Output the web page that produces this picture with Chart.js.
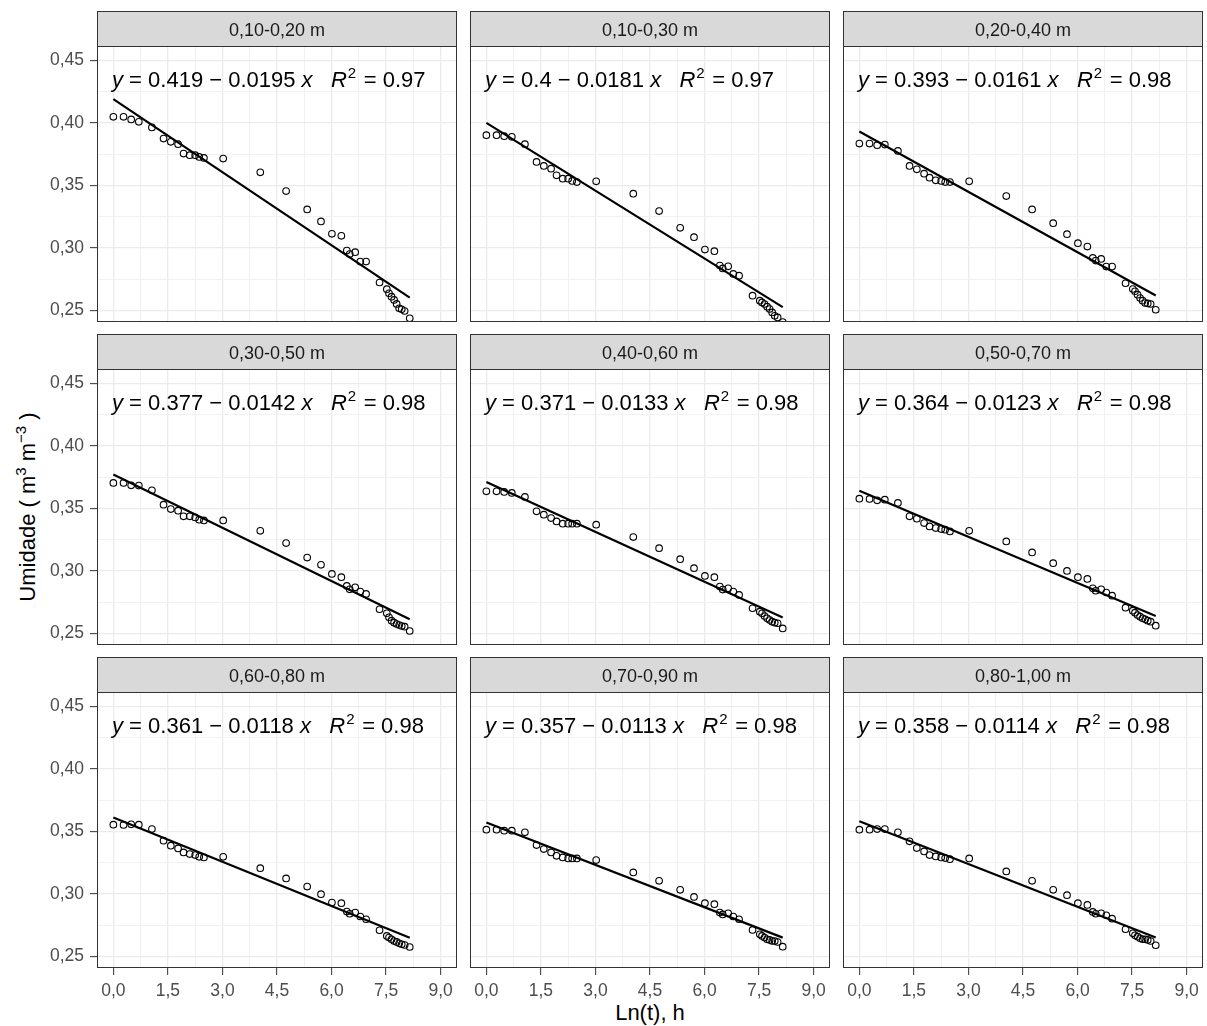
<!DOCTYPE html>
<html>
<head>
<meta charset="utf-8">
<script src="https://cdn.jsdelivr.net/npm/chart.js@4.4.1/dist/chart.umd.min.js"></script>
<style>
  html, body { margin: 0; padding: 0; background: #ffffff; }
  body { width: 1207px; height: 1026px; position: relative; overflow: hidden;
         font-family: "Liberation Sans", Arial, sans-serif; }
  canvas { position: absolute; }
  .axis-title { position: absolute; font-size: 22px; color: #000; white-space: nowrap; line-height: 1; }
  .axis-title sup { font-size: 15px; vertical-align: 0; position: relative; top: -9px; }
  #ytitle { left: 28px; top: 507px; transform: translate(-50%, -50%) rotate(-90deg); }
  #xtitle { left: 650px; top: 1013px; transform: translate(-50%, -50%); }
</style>
</head>
<body>
<div id="ytitle" class="axis-title">Umidade ( m<sup>3</sup> m<sup>&minus;3</sup> )</div>
<div id="xtitle" class="axis-title">Ln(t), h</div>
<script>
// Soil layers (facet titles)
const camadas = ['0,10-0,20 m', '0,10-0,30 m', '0,20-0,40 m',
                 '0,30-0,50 m', '0,40-0,60 m', '0,50-0,70 m',
                 '0,60-0,80 m', '0,70-0,90 m', '0,80-1,00 m'];

// Natural log of drainage time (h)
const lnT = [0, 0.28, 0.49, 0.70, 1.06, 1.38, 1.58, 1.78, 1.93, 2.10, 2.25, 2.36, 2.49,
             3.02, 4.04, 4.75, 5.33, 5.71, 6.01, 6.27,
             6.42, 6.50, 6.65, 6.79, 6.95,
             7.32, 7.52, 7.58, 7.65, 7.72, 7.79, 7.86, 7.93, 8.01, 8.15];

// Observed water content (m3 m-3) per layer
const u_010_020 = [0.4048, 0.4048, 0.4027, 0.4008, 0.3963, 0.3874, 0.3848, 0.3829, 0.3754, 0.3741, 0.3741, 0.3727, 0.3719,
                   0.3714, 0.3604, 0.3454, 0.3307, 0.3211, 0.3112, 0.3096,
                   0.2978, 0.2950, 0.2965, 0.2890, 0.2890,
                   0.2722, 0.2669, 0.2636, 0.2609, 0.2583, 0.2551, 0.2516, 0.2508, 0.2494, 0.2436];
const u_010_030 = [0.3901, 0.3901, 0.3893, 0.3888, 0.3829, 0.3687, 0.3655, 0.3633, 0.3580, 0.3553, 0.3553, 0.3535, 0.3526,
                   0.3532, 0.3433, 0.3294, 0.3160, 0.3085, 0.2986, 0.2973,
                   0.2858, 0.2835, 0.2852, 0.2791, 0.2777,
                   0.2617, 0.2577, 0.2563, 0.2550, 0.2529, 0.2510, 0.2483, 0.2456, 0.2443, 0.2405];
const u_020_040 = [0.3834, 0.3834, 0.3821, 0.3826, 0.3775, 0.3655, 0.3628, 0.3593, 0.3561, 0.3540, 0.3535, 0.3526, 0.3526,
                   0.3532, 0.3414, 0.3307, 0.3197, 0.3109, 0.3037, 0.3010,
                   0.2919, 0.2898, 0.2911, 0.2850, 0.2850,
                   0.2716, 0.2670, 0.2652, 0.2625, 0.2598, 0.2577, 0.2558, 0.2555, 0.2550, 0.2504];
const u_030_050 = [0.3703, 0.3703, 0.3684, 0.3682, 0.3644, 0.3529, 0.3494, 0.3481, 0.3436, 0.3436, 0.3427, 0.3409, 0.3403,
                   0.3403, 0.3320, 0.3222, 0.3106, 0.3048, 0.2975, 0.2949,
                   0.2879, 0.2852, 0.2868, 0.2834, 0.2815,
                   0.2692, 0.2660, 0.2628, 0.2601, 0.2585, 0.2574, 0.2566, 0.2558, 0.2553, 0.2518];
const u_040_060 = [0.3636, 0.3636, 0.3631, 0.3623, 0.3591, 0.3476, 0.3449, 0.3422, 0.3395, 0.3377, 0.3377, 0.3377, 0.3377,
                   0.3369, 0.3270, 0.3181, 0.3093, 0.3021, 0.2959, 0.2949,
                   0.2874, 0.2850, 0.2860, 0.2834, 0.2807,
                   0.2700, 0.2673, 0.2660, 0.2638, 0.2620, 0.2606, 0.2593, 0.2585, 0.2580, 0.2539];
const u_050_070 = [0.3577, 0.3575, 0.3564, 0.3569, 0.3543, 0.3436, 0.3417, 0.3382, 0.3355, 0.3342, 0.3334, 0.3329, 0.3315,
                   0.3320, 0.3235, 0.3147, 0.3061, 0.2999, 0.2949, 0.2935,
                   0.2860, 0.2840, 0.2852, 0.2826, 0.2801,
                   0.2705, 0.2681, 0.2665, 0.2646, 0.2633, 0.2620, 0.2612, 0.2601, 0.2593, 0.2561];
const u_060_080 = [0.3553, 0.3551, 0.3556, 0.3553, 0.3518, 0.3425, 0.3385, 0.3363, 0.3331, 0.3318, 0.3310, 0.3296, 0.3291,
                   0.3296, 0.3205, 0.3123, 0.3058, 0.2997, 0.2930, 0.2925,
                   0.2858, 0.2840, 0.2850, 0.2818, 0.2796,
                   0.2708, 0.2663, 0.2650, 0.2636, 0.2622, 0.2615, 0.2604, 0.2596, 0.2590, 0.2574];
const u_070_090 = [0.3513, 0.3513, 0.3505, 0.3505, 0.3492, 0.3390, 0.3358, 0.3331, 0.3304, 0.3291, 0.3283, 0.3283, 0.3283,
                   0.3270, 0.3171, 0.3104, 0.3032, 0.2975, 0.2925, 0.2917,
                   0.2850, 0.2835, 0.2844, 0.2818, 0.2796,
                   0.2711, 0.2676, 0.2663, 0.2650, 0.2636, 0.2631, 0.2622, 0.2622, 0.2614, 0.2577];
const u_080_100 = [0.3513, 0.3513, 0.3518, 0.3518, 0.3492, 0.3420, 0.3366, 0.3339, 0.3310, 0.3299, 0.3291, 0.3286, 0.3277,
                   0.3283, 0.3179, 0.3104, 0.3032, 0.2989, 0.2925, 0.2911,
                   0.2855, 0.2840, 0.2844, 0.2828, 0.2801,
                   0.2716, 0.2684, 0.2668, 0.2657, 0.2644, 0.2636, 0.2636, 0.2631, 0.2622, 0.2588];

// Fitted linear models: umidade = intercepto - inclinacao * ln(t)
const interceptos = [0.419, 0.4, 0.393, 0.377, 0.371, 0.364, 0.361, 0.357, 0.358];
const inclinacoes = [0.0195, 0.0181, 0.0161, 0.0142, 0.0133, 0.0123, 0.0118, 0.0113, 0.0114];
const r2 = [0.97, 0.97, 0.98, 0.98, 0.98, 0.98, 0.98, 0.98, 0.98];

// Axis ticks
const xTickValues = [0, 1.5, 3, 4.5, 6, 7.5, 9];
const xTickLabels = ['0,0', '1,5', '3,0', '4,5', '6,0', '7,5', '9,0'];
const xMinorValues = [0.75, 2.25, 3.75, 5.25, 6.75, 8.25];
const yTickValues = [0.25, 0.30, 0.35, 0.40, 0.45];
const yTickLabels = ['0,25', '0,30', '0,35', '0,40', '0,45'];
const yMinorValues = [0.275, 0.325, 0.375, 0.425];

const series = [u_010_020, u_010_030, u_020_040, u_030_050, u_040_060,
                u_050_070, u_060_080, u_070_090, u_080_100];

// Page layout of the 3 x 3 facet grid
const LAYOUT = { colLeft: [97, 470, 843], rowTop: [11, 334, 657],
                 plotW: 360, plotH: 276, stripH: 35, yAxisW: 57, xAxisH: 34 };

const FONT = '"Liberation Sans", Arial, sans-serif';
Chart.defaults.font.family = FONT;

const near = (a, b) => Math.abs(a - b) < 1e-6;
const isIn = (arr, v) => arr.some(t => near(t, v));

const facetPlugin = {
  id: 'facet',
  afterDraw(chart, args, opts) {
    const { ctx, chartArea: a } = chart;
    const SH = LAYOUT.stripH;
    ctx.save();
    // panel border
    ctx.strokeStyle = '#333333';
    ctx.lineWidth = 1;
    ctx.strokeRect(a.left + 0.5, a.top + 0.5, a.width - 1, a.height - 1);
    // strip
    ctx.fillStyle = '#D9D9D9';
    ctx.fillRect(a.left + 0.5, a.top - SH + 0.5, a.width - 1, SH);
    ctx.strokeRect(a.left + 0.5, a.top - SH + 0.5, a.width - 1, SH);
    ctx.fillStyle = '#1A1A1A';
    ctx.font = '18px ' + FONT;
    ctx.textAlign = 'center';
    ctx.textBaseline = 'middle';
    ctx.fillText(opts.title, (a.left + a.right) / 2, a.top - SH / 2 + 2.5);

    // regression equation
    const base = '22px ' + FONT;
    const ital = 'italic 22px ' + FONT;
    const sup = '15px ' + FONT;
    const parts = [
      [ital, 'y', 0, 0],
      [base, ' = ' + String(opts.a) + ' \u2212 ' + String(opts.b) + ' ', 0, 0],
      [ital, 'x', 0, 0],
      [base, '   ', 0, 0],
      [ital, 'R', 0, 1],
      [sup, '2', -9, 1.5],
      [base, ' = ' + opts.r.toFixed(2), 0, 0]
    ];
    let x = a.left + 15;
    const y = a.top + 41;
    ctx.textAlign = 'left';
    ctx.textBaseline = 'alphabetic';
    ctx.fillStyle = '#000000';
    for (const [f, t, dy, gap] of parts) {
      ctx.font = f;
      ctx.fillText(t, x, y + dy);
      x += ctx.measureText(t).width + gap;
    }
    ctx.restore();
  }
};

const MAJOR_GRID = '#EBEBEB';
const MINOR_GRID = '#F1F1F1';

series.forEach((vals, i) => {
  const col = i % 3, row = Math.floor(i / 3);
  const showY = col === 0, showX = row === 2;
  const padL = showY ? LAYOUT.yAxisW : 1;
  const cv = document.createElement('canvas');
  const w = padL + LAYOUT.plotW + 1;
  const h = LAYOUT.stripH + LAYOUT.plotH + (showX ? LAYOUT.xAxisH : 1);
  cv.width = w; cv.height = h;
  cv.style.width = w + 'px'; cv.style.height = h + 'px';
  cv.style.left = (LAYOUT.colLeft[col] - padL) + 'px';
  cv.style.top = LAYOUT.rowTop[row] + 'px';
  document.body.appendChild(cv);

  const pts = lnT.map((t, k) => ({ x: t, y: vals[k] }));
  const xs = [lnT[0], lnT[lnT.length - 1]];
  const fit = xs.map(t => ({ x: t, y: interceptos[i] - inclinacoes[i] * t }));

  new Chart(cv, {
    type: 'scatter',
    data: {
      datasets: [
        { type: 'line', data: fit, borderColor: '#000000', borderWidth: 2.2,
          pointRadius: 0, fill: false, tension: 0, clip: 0 },
        { data: pts, pointStyle: 'circle', pointRadius: 3.3,
          backgroundColor: 'rgba(0,0,0,0)', borderColor: '#000000', borderWidth: 1.1,
          clip: 0 }
      ]
    },
    options: {
      responsive: false,
      animation: false,
      devicePixelRatio: 1,
      events: [],
      layout: { autoPadding: false,
                padding: { left: showY ? 0 : 1, right: 1, top: LAYOUT.stripH, bottom: showX ? 0 : 1 } },
      plugins: {
        legend: { display: false },
        tooltip: { enabled: false },
        facet: { title: camadas[i], a: interceptos[i], b: inclinacoes[i], r: r2[i] }
      },
      scales: {
        x: {
          type: 'linear', min: -0.45, max: 9.45,
          afterBuildTicks: s => { s.ticks = xTickValues.concat(xMinorValues).sort((p, q) => p - q).map(v => ({ value: v })); },
          afterFit: s => { s.height = showX ? LAYOUT.xAxisH : 0; s.paddingLeft = 0; s.paddingRight = 0; },
          border: { display: false },
          grid: {
            color: c => isIn(xTickValues, c.tick.value) ? MAJOR_GRID : MINOR_GRID,
            lineWidth: c => isIn(xTickValues, c.tick.value) ? 1.3 : 1,
            drawTicks: showX, tickLength: 7,
            tickColor: c => isIn(xTickValues, c.tick.value) ? '#333333' : 'rgba(0,0,0,0)',
            tickWidth: 1
          },
          ticks: {
            display: showX, autoSkip: false, maxRotation: 0, padding: 6,
            color: '#4D4D4D', font: { size: 17.5, family: FONT },
            callback: v => { const k = xTickValues.findIndex(t => near(t, v)); return k >= 0 ? xTickLabels[k] : ''; }
          }
        },
        y: {
          type: 'linear', min: 0.2406, max: 0.4615,
          afterBuildTicks: s => { s.ticks = yTickValues.concat(yMinorValues).sort((p, q) => p - q).map(v => ({ value: v })); },
          afterFit: s => { s.width = showY ? LAYOUT.yAxisW : 0; s.paddingTop = 0; s.paddingBottom = 0; },
          border: { display: false },
          grid: {
            color: c => isIn(yTickValues, c.tick.value) ? MAJOR_GRID : MINOR_GRID,
            lineWidth: c => isIn(yTickValues, c.tick.value) ? 1.3 : 1,
            drawTicks: showY, tickLength: 7,
            tickColor: c => isIn(yTickValues, c.tick.value) ? '#333333' : 'rgba(0,0,0,0)',
            tickWidth: 1
          },
          ticks: {
            display: showY, autoSkip: false, padding: 6,
            color: '#4D4D4D', font: { size: 17.5, family: FONT },
            callback: v => { const k = yTickValues.findIndex(t => near(t, v)); return k >= 0 ? yTickLabels[k] : ''; }
          }
        }
      }
    },
    plugins: [facetPlugin]
  });
});
</script>
</body>
</html>
